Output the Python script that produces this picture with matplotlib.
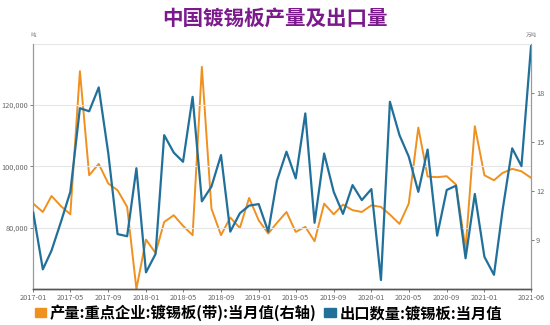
import matplotlib.pyplot as plt
import matplotlib.dates as mdates
from matplotlib.patches import Patch
import pandas as pd

plt.rcParams['font.family'] = ['Noto Sans CJK SC', 'DejaVu Sans']

# monthly data 2017-01 .. 2021-06
months = pd.date_range('2017-01-01', '2021-06-01', freq='MS')

# export volume, tons (left axis)
export_t = [84900, 66400, 72500, 82000, 91700, 119000, 118000, 125800, 104200, 77900,
            77200, 99400, 65400, 71400, 110200, 104500, 101500, 122700, 88600, 93400,
            103700, 78700, 84700, 87200, 87700, 78700, 95300, 104800, 96100, 117300,
            81600, 104200, 91700, 84500, 93900, 89000, 92600, 62900, 121100, 110200,
            103200, 91700, 105500, 77400, 92300, 93700, 70000, 91000, 70500, 64600,
            85800, 105900, 100100, 139200]

# production of key enterprises, 10k tons (right axis)
output_wt = [11.22, 10.71, 11.69, 11.06, 10.57, 19.33, 12.96, 13.65, 12.45, 12.04,
             11.02, 6.0, 9.02, 8.20, 10.10, 10.51, 9.86, 9.29, 19.59, 10.92,
             9.29, 10.37, 9.73, 11.57, 10.20, 9.39, 10.04, 10.71, 9.49, 9.80,
             8.92, 11.22, 10.57, 11.16, 10.82, 10.71, 11.12, 11.02, 10.55, 9.98,
             11.22, 15.88, 12.88, 12.84, 12.90, 12.39, 8.47, 15.96, 12.96, 12.65,
             13.10, 13.35, 13.20, 12.80]

xtick_dates = pd.to_datetime(['2017-01-01', '2017-05-01', '2017-09-01', '2018-01-01',
                              '2018-05-01', '2018-09-01', '2019-01-01', '2019-05-01',
                              '2019-09-01', '2020-01-01', '2020-05-01', '2020-09-01',
                              '2021-01-01', '2021-06-01'])
left_ticks = [80000, 100000, 120000]
right_ticks = [9, 12, 15, 18]

orange = '#f0901e'
blue = '#21709a'
tick_color = '#666666'

fig = plt.figure(figsize=(5.5, 3.25), dpi=100)
ax = fig.add_axes([0.0605, 0.111, 0.905, 0.754])
ax2 = ax.twinx()

ax.plot(months, export_t, color=blue, lw=1.6, zorder=3)
ax2.plot(months, output_wt, color=orange, lw=1.4, zorder=2)
ax.set_zorder(ax2.get_zorder() + 1)
ax.patch.set_visible(False)

ax.set_xlim(months[0], months[-1])
ax.set_ylim(60000, 140000)
ax2.set_ylim(6, 21)

ax.set_yticks(left_ticks)
ax.set_yticklabels([f'{v:,}' for v in left_ticks])
ax2.set_yticks(right_ticks)
ax2.set_yticklabels([str(v) for v in right_ticks])

ax.set_xticks(xtick_dates)
ax.xaxis.set_major_formatter(mdates.DateFormatter('%Y-%m'))

for g in [80000, 100000, 120000, 140000]:
    ax.axhline(g, color='#e6e6e6', lw=0.8, zorder=0)

ax.tick_params(axis='both', labelsize=5.3, colors=tick_color, length=2, width=0.6, pad=1.5)
ax2.tick_params(axis='y', labelsize=5.3, colors=tick_color, length=2, width=0.6, pad=1.5)

for a in (ax, ax2):
    a.spines['top'].set_visible(False)
    a.spines['left'].set_color('#999999')
    a.spines['right'].set_color('#999999')
    a.spines['bottom'].set_color('#555555')
    a.spines['left'].set_linewidth(0.8)
    a.spines['right'].set_linewidth(0.8)
    a.spines['bottom'].set_linewidth(1.0)

fig.text(0.06, 0.885, '吨', fontsize=4, color='#888888', ha='center')
fig.text(0.9655, 0.885, '万吨', fontsize=4, color='#888888', ha='center')

fig.text(0.5, 0.945, '中国镀锡板产量及出口量', fontsize=14.8, fontweight='heavy',
         color='#7b1a8c', ha='center', va='center')

handles = [Patch(color=orange, label='产量:重点企业:镀锡板(带):当月值(右轴)'),
           Patch(color=blue, label='出口数量:镀锡板:当月值')]
leg = fig.legend(handles=handles, loc='center', bbox_to_anchor=(0.488, 0.037), ncol=2,
                 frameon=False, handlelength=0.75, handleheight=0.55, handletextpad=0.25,
                 columnspacing=0.5, prop={'size': 11, 'weight': 'bold'})

fig.savefig('out.png', dpi=100)
